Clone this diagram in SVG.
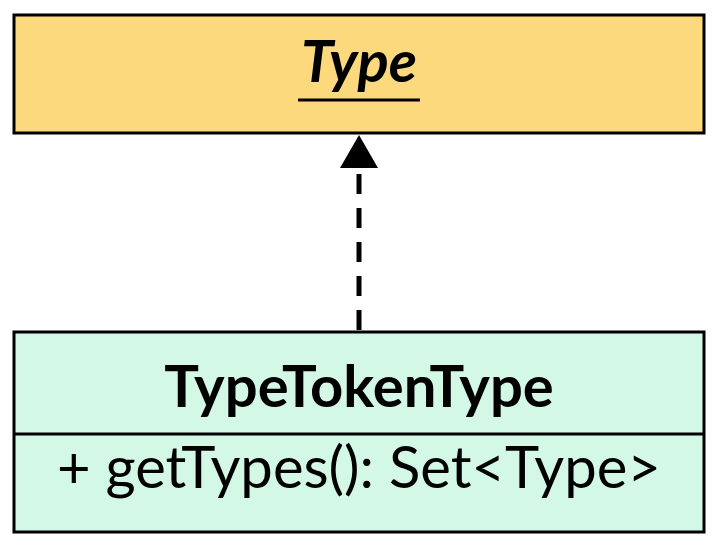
<svg xmlns="http://www.w3.org/2000/svg" width="719" height="549" viewBox="0 0 719 549">
<style>
.box{stroke:#000;stroke-width:3}
.t{font-family:Lato,"Liberation Sans",sans-serif;font-size:58px;text-anchor:middle;fill:#000}
</style>
<rect width="719" height="549" fill="#fff"/>
<g id="connectors">
<line x1="359" y1="330" x2="359" y2="168" stroke="#000" stroke-width="5" stroke-dasharray="20,14"/>
<polygon points="359,135 340,168 378,168" fill="#000"/>
</g>
<g id="Type">
<rect class="box" x="14" y="15" width="690" height="118" fill="#fcd97c"/>
<text class="t" x="359" y="82" font-weight="bold" font-style="italic" font-size="60">Type</text>
<line x1="298" y1="100" x2="420" y2="100" stroke="#000" stroke-width="3"/>
</g>
<g id="TypeTokenType">
<rect class="box" x="14" y="332" width="690" height="200" fill="#d3f8e6"/>
<line x1="14" y1="434" x2="704" y2="434" stroke="#000" stroke-width="3"/>
<text class="t" x="359" y="407" font-weight="bold">TypeTokenType</text>
<text class="t" x="359" y="488">+ getTypes(): Set&lt;Type&gt;</text>
</g>
</svg>
